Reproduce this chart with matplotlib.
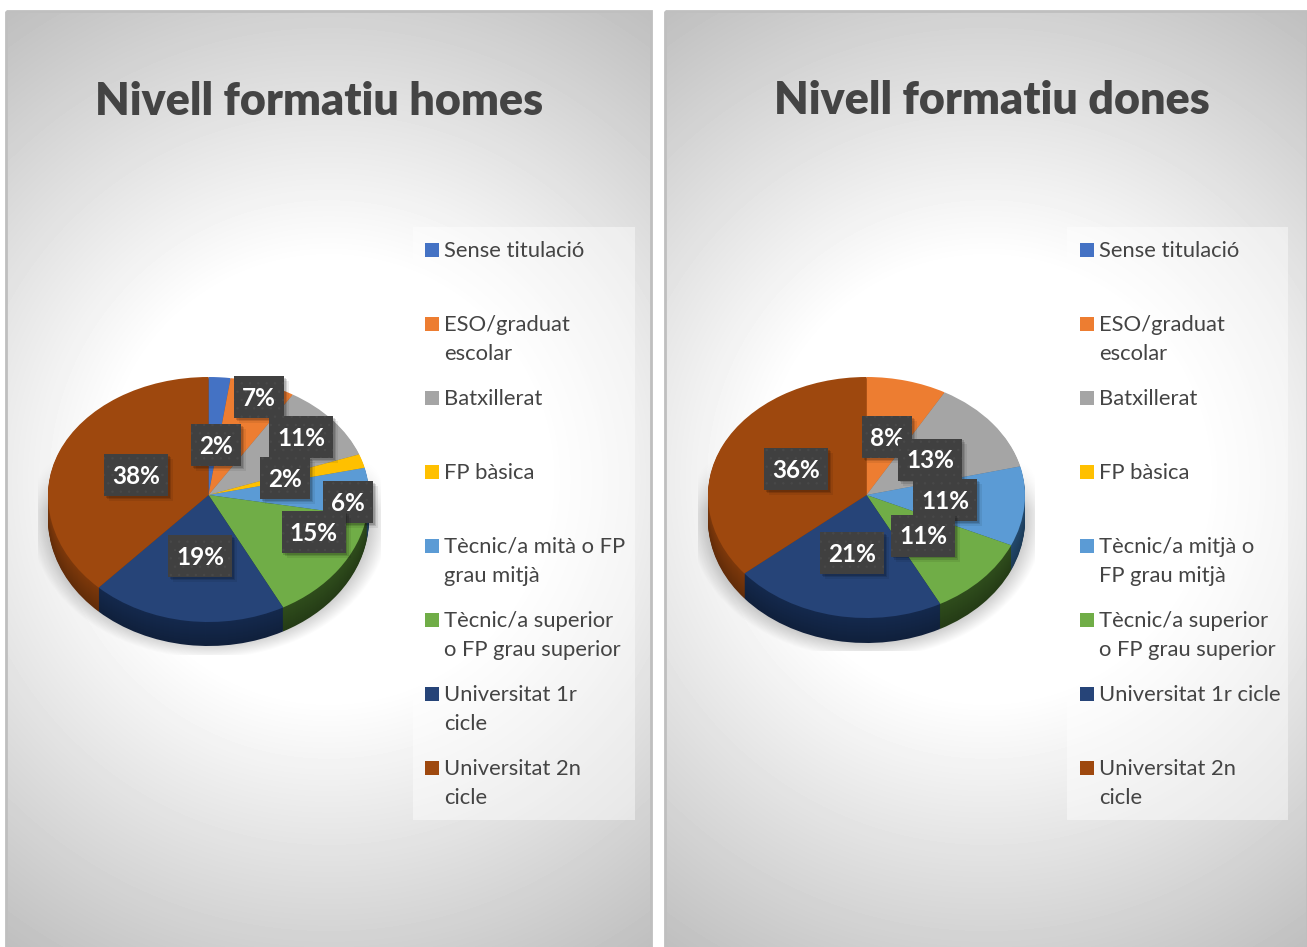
import numpy as np
from matplotlib import pyplot as plt
from matplotlib.patches import Rectangle
from matplotlib.transforms import Affine2D

plt.rcParams['font.family'] = ['Lato', 'DejaVu Sans']

# valors llegits del gràfic (angles) i etiquetes tal com surten
homes = [2.2, 6.6, 10.6, 1.9, 6.4, 14.6, 19.7, 38.0]
dones = [0, 8.2, 12.9, 0, 10.6, 10.6, 21.7, 36.0]
labelsHomes = ["2%", "7%", "11%", "2%", "6%", "15%", "19%", "38%"]
labelsDones = ["8%", "13%", "11%", "11%", "21%", "36%"]

legendHomes = ["Sense titulació", "ESO/graduat\nescolar", "Batxillerat", "FP bàsica",
               "Tècnic/a mità o FP\ngrau mitjà", "Tècnic/a superior\no FP grau superior",
               "Universitat 1r\ncicle", "Universitat 2n\ncicle"]
legendDones = ["Sense titulació", "ESO/graduat\nescolar", "Batxillerat", "FP bàsica",
               "Tècnic/a mitjà o\nFP grau mitjà", "Tècnic/a superior\no FP grau superior",
               "Universitat 1r cicle", "Universitat 2n\ncicle"]

colors = ["#4472c4", "#ed7d31", "#a5a5a5", "#ffc000", "#5b9bd5", "#70ad47", "#264478", "#9e480e"]
sideColors = ["#2a4a80", "#a8561f", "#6e6e6e", "#a88000", "#234a6e", "#2f4d1c", "#14294d", "#7e390b"]

W, H = 1307, 947
TEXT = "#444444"
LEGEND_Y = [250.5, 324.5, 398.5, 472.5, 546.5, 620.5, 694.5, 768.5]

# centres de les etiquetes en píxels
boxesHomes = [(216, 445), (259, 397), (301, 437), (285, 478), (348, 502), (313.5, 532), (200, 556), (136, 475)]
boxesDones = [(887, 437), (930, 459.5), (945, 500), (923, 535.5), (852, 553), (796, 469)]


def drawPanel(ax, x0, x1):
    cx, cy = (x0 + x1) / 2, 479
    xx, yy = np.meshgrid(np.arange(x0, x1), np.arange(11, H))
    dist = np.hypot(xx - cx, yy - cy)
    grey = np.clip(255 - np.clip(dist - 220, 0, None) * 0.185, 0, 255) / 255
    ax.imshow(grey, cmap="gray", vmin=0, vmax=1, extent=(x0, x1, H, 11), aspect="auto", zorder=1)
    ax.add_patch(Rectangle((x0, 11), x1 - x0, H, fill=False, edgecolor="#bfbfbf", lw=2, zorder=2))


def drawShadow(ax, x0, x1, y1, cx, rx):
    xx, yy = np.meshgrid(np.arange(x0, x1), np.arange(460, y1))
    dist = np.hypot((xx - cx) / rx, (yy - 518) / 140)
    img = np.zeros(xx.shape + (4,))
    img[..., 3] = 0.36 * np.clip((1 - dist) / 0.2, 0, 1) * np.clip((yy - 460) / 50, 0, 1)
    ax.imshow(img, extent=(x0, x1, y1, 460), aspect="auto", zorder=3)


def drawPie(fig, values, cx, rx, top, apex, bottom, depth):
    # el pastís en perspectiva: la meitat del davant és una mica més alta
    up, down = apex - top, bottom - apex
    ax = fig.add_axes([(cx - rx) / W, (H - bottom) / H, 2 * rx / W, (bottom - top) / H], zorder=2)
    ax.patch.set_alpha(0)
    for k in range(depth, 0, -1):
        shade = 0.78 + 0.22 * (depth - k) / depth
        sides = [tuple(c * shade for c in plt.matplotlib.colors.to_rgb(s)) for s in sideColors]
        wedges, _ = ax.pie(values, colors=sides, startangle=90, counterclock=False, radius=1)
        for w in wedges:
            w.set_transform(ax.transData + Affine2D().translate(0, -k))
            w.set_clip_on(False)
    wedges, _ = ax.pie(values, colors=colors, startangle=90, counterclock=False, radius=1)
    for w in wedges:
        w.set_clip_on(False)

    def forward(y):
        y = np.asarray(y, dtype=float)
        return np.where(y >= 0, y * up, y * down)

    def inverse(y):
        y = np.asarray(y, dtype=float)
        return np.where(y >= 0, y / up, y / down)

    ax.set_aspect("auto")
    ax.set_yscale("function", functions=(forward, inverse))
    ax.set_xlim(-1, 1)
    ax.set_ylim(-1, 1)
    ax.axis("off")


def drawLabels(ax, texts, boxes):
    plt.rcParams['hatch.linewidth'] = 0.5
    for n, (text, (x, y)) in enumerate(zip(texts, boxes)):
        w = 64 if len(text) > 2 else 50
        z = 5 + n * 0.01
        for off, a in [(5, 0.07), (3, 0.12), (1.5, 0.15)]:
            ax.add_patch(Rectangle((x - w / 2 + off, y - 21 + off), w, 42, fc="#000000", alpha=a, lw=0, zorder=z))
        ax.add_patch(Rectangle((x - w / 2, y - 21), w, 42, fc="#404040", ec="#494949", hatch="..", lw=0, zorder=z))
        ax.text(x, y + 1, text, color="white", fontsize=17.5, fontweight="bold",
                ha="center", va="center", zorder=z)


def drawLegend(ax, labels, bg0, bg1, sq):
    ax.add_patch(Rectangle((bg0, 227), bg1 - bg0, 593, fc="white", alpha=0.45, lw=0, zorder=4))
    for y, label, c in zip(LEGEND_Y, labels, colors):
        ax.add_patch(Rectangle((sq, y - 7.5), 14, 14, fc=c, lw=0, zorder=5))
        for i, line in enumerate(label.split("\n")):
            ax.text(sq + 19, y + i * 29.5, line, color=TEXT, fontsize=15.8, ha="left", va="center", zorder=5)


fig = plt.figure(figsize=(W / 100, H / 100), dpi=100, facecolor="white")

back = fig.add_axes([0, 0, 1, 1], zorder=1)
drawPanel(back, 6, 651)
drawPanel(back, 665, 1307)
drawShadow(back, 38, 381, 655, 209, 180)
drawShadow(back, 698, 1035, 651, 866, 178)
back.set_xlim(0, W)
back.set_ylim(H, 0)
back.axis("off")

drawPie(fig, homes, 208.5, 160.5, 377, 495, 622, 24)
drawPie(fig, dones, 866.5, 158.5, 377, 495, 618, 25)

front = fig.add_axes([0, 0, 1, 1], zorder=3)
front.patch.set_alpha(0)
front.set_xlim(0, W)
front.set_ylim(H, 0)
front.axis("off")

front.text(319, 101, "Nivell formatiu homes", color=TEXT, fontsize=32.2, fontweight="heavy", ha="center", va="center")
front.text(992, 100, "Nivell formatiu dones", color=TEXT, fontsize=32.2, fontweight="heavy", ha="center", va="center")

drawLegend(front, legendHomes, 413, 635, 425)
drawLegend(front, legendDones, 1067, 1288, 1080)
drawLabels(front, labelsHomes, boxesHomes)
drawLabels(front, labelsDones, boxesDones)

plt.savefig("out.png", dpi=100)
